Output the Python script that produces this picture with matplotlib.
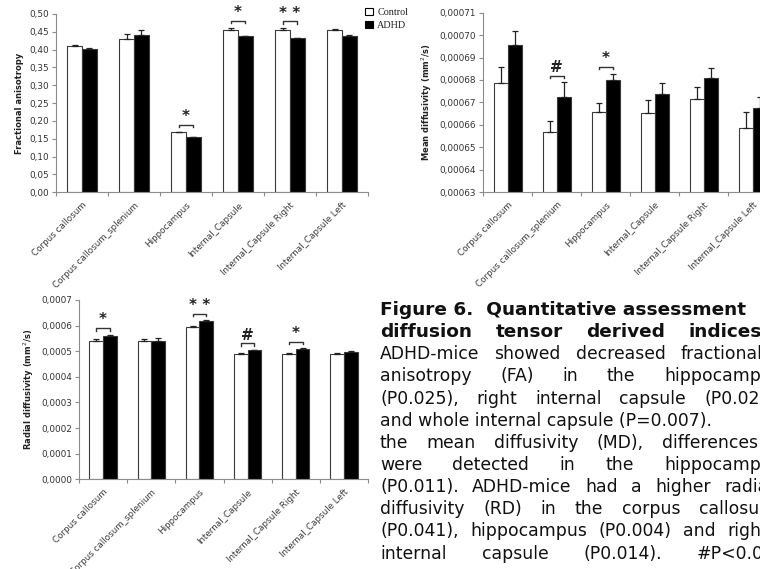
import matplotlib
matplotlib.use("Agg")
import matplotlib.pyplot as plt
from matplotlib.patches import Patch
from matplotlib.ticker import FuncFormatter, MultipleLocator

# Regions measured in each DTI map
regions = ["Corpus callosum", "Corpus callosum_splenium", "Hippocampus",
           "Internal_Capsule", "Internal_Capsule Right", "Internal_Capsule Left"]

# Fractional anisotropy (mean, SEM)
fa_control = [0.410, 0.429, 0.168, 0.455, 0.455, 0.455]
fa_control_err = [0.002, 0.016, 0.002, 0.007, 0.006, 0.004]
fa_adhd = [0.401, 0.442, 0.155, 0.437, 0.433, 0.439]
fa_adhd_err = [0.005, 0.012, 0.001, 0.001, 0.001, 0.003]
fa_marks = {2: "*", 3: "*", 4: "* *"}

# Mean diffusivity, mm^2/s
md_control = [0.0006785, 0.0006568, 0.0006657, 0.0006651, 0.0006715, 0.0006587]
md_control_err = [0.0000071, 0.0000050, 0.0000042, 0.0000059, 0.0000052, 0.0000068]
md_adhd = [0.0006957, 0.0006725, 0.0006800, 0.0006739, 0.0006807, 0.0006673]
md_adhd_err = [0.0000063, 0.0000064, 0.0000028, 0.0000046, 0.0000045, 0.0000050]
md_marks = {1: "#", 2: "*"}

# Radial diffusivity, mm^2/s
rd_control = [0.000540, 0.000540, 0.000596, 0.000488, 0.000490, 0.000488]
rd_control_err = [0.000006, 0.000007, 0.000002, 0.000005, 0.000004, 0.000004]
rd_adhd = [0.000559, 0.000540, 0.000618, 0.000503, 0.000510, 0.000497]
rd_adhd_err = [0.000005, 0.000010, 0.000003, 0.000002, 0.000002, 0.000004]
rd_marks = {0: "*", 2: "* *", 3: "#", 4: "*"}

W, H = 760, 569
TICK_COLOR = "#333333"
AXIS_COLOR = "#8c8c8c"
BAR_W = 0.285

plt.rcParams["font.family"] = ["DejaVu Sans"]
fig = plt.figure(figsize=(W / 100, H / 100), dpi=100)


def px_axes(left, top, right, bottom):
    """Axes from pixel edges (y measured from the top)."""
    return fig.add_axes([left / W, 1 - bottom / H, (right - left) / W, (bottom - top) / H])


def bar_panel(ax, ctrl, ctrl_err, adhd, adhd_err, marks, ylim, step, decimals, ylabel):
    x = list(range(len(regions)))
    xc = [i - BAR_W / 2 for i in x]
    xa = [i + BAR_W / 2 for i in x]
    ekw = dict(ecolor="#222222", elinewidth=0.9, capsize=2.2, capthick=0.9)
    ax.bar(xc, ctrl, BAR_W, color="white", edgecolor="#3a3a3a", linewidth=0.8,
           yerr=[[0] * len(ctrl), ctrl_err], error_kw=ekw, zorder=2)
    ax.bar(xa, adhd, BAR_W, color="black", edgecolor="#3a3a3a", linewidth=0.8,
           yerr=[[0] * len(adhd), adhd_err], error_kw=ekw, zorder=2)

    ax.set_xlim(-0.5, len(regions) - 0.5)
    ax.set_ylim(*ylim)
    span = ylim[1] - ylim[0]

    # significance brackets between the two bars of a region
    for i, label in marks.items():
        top = max(ctrl[i] + ctrl_err[i], adhd[i] + adhd_err[i])
        yb = top + 0.036 * span
        tick = 0.012 * span
        ax.plot([xc[i], xc[i], xa[i], xa[i]], [yb - tick, yb, yb, yb - tick],
                color="#333333", lw=1.0, clip_on=False, zorder=3)
        ax.text(i, yb + 0.005 * span, label, ha="center", va="bottom",
                fontsize=11, fontweight="bold", color="#222222", clip_on=False)

    for side in ("top", "right"):
        ax.spines[side].set_visible(False)
    for side in ("left", "bottom"):
        ax.spines[side].set_color(AXIS_COLOR)
        ax.spines[side].set_linewidth(0.8)

    ax.yaxis.set_major_locator(MultipleLocator(step))
    ax.yaxis.set_major_formatter(FuncFormatter(
        lambda v, _: f"{v:.{decimals}f}".replace(".", ",")))
    ax.tick_params(axis="y", length=3, width=0.8, color=AXIS_COLOR,
                   labelsize=6.4, labelcolor=TICK_COLOR, pad=2)

    ax.set_xticks(x)
    ax.set_xticklabels(regions, rotation=45, ha="right", va="top",
                       rotation_mode="anchor", fontsize=6.3, color="#3a3a3a")
    ax.set_xticks([i - 0.5 for i in range(len(regions) + 1)], minor=True)
    ax.tick_params(axis="x", which="major", length=0, pad=6)
    ax.tick_params(axis="x", which="minor", length=3, width=0.8, color=AXIS_COLOR)

    ax.set_ylabel(ylabel, fontsize=6, fontweight="bold", color="#222222", labelpad=4)


ax_fa = px_axes(56, 14, 368, 192.3)
bar_panel(ax_fa, fa_control, fa_control_err, fa_adhd, fa_adhd_err, fa_marks,
          (0, 0.5), 0.05, 2, "Fractional anisotropy")

ax_md = px_axes(483.3, 12.7, 483.3 + 6 * 49, 192)
bar_panel(ax_md, md_control, md_control_err, md_adhd, md_adhd_err, md_marks,
          (0.00063, 0.00071), 0.00001, 5, "Mean diffusivity (mm$^2$/s)")

ax_rd = px_axes(79, 300, 368, 479.3)
bar_panel(ax_rd, rd_control, rd_control_err, rd_adhd, rd_adhd_err, rd_marks,
          (0, 0.0007), 0.0001, 4, "Radial diffusivity (mm$^2$/s)")

handles = [Patch(facecolor="white", edgecolor="black", linewidth=0.8),
           Patch(facecolor="black", edgecolor="black", linewidth=0.8)]
fig.legend(handles, ["Control", "ADHD"], loc="upper left",
           bbox_to_anchor=(365 / W, 1 - 8 / H), frameon=False,
           prop=dict(family="Liberation Serif", size=7.3), labelcolor="#222222",
           handlelength=0.75, handleheight=0.75, handletextpad=0.45,
           labelspacing=0.35, borderaxespad=0, borderpad=0)

# Figure caption. A line is either one string, or a list of words spread
# between the left margin and the x where its last word starts.
CAP_X = 380
caption = [
    (True, "Figure 6.  Quantitative assessment", None),
    (True, ["diffusion", "tensor", "derived", "indices."], 689),
    (False, ["ADHD-mice", "showed", "decreased", "fractional"], 681),
    (False, ["anisotropy", "(FA)", "in", "the", "hippocampus"], 664),
    (False, ["(P0.025),", "right", "internal", "capsule", "(P0.028)"], 704),
    (False, "and whole internal capsule (P=0.007).", None),
    (False, ["the", "mean", "diffusivity", "(MD),", "differences"], 662),
    (False, ["were", "detected", "in", "the", "hippocampus"], 664),
    (False, ["(P0.011).", "ADHD-mice", "had", "a", "higher", "radial"], 724),
    (False, ["diffusivity", "(RD)", "in", "the", "corpus", "callosum"], 699),
    (False, ["(P0.041),", "hippocampus", "(P0.004)", "and", "right"], 727),
    (False, ["internal", "capsule", "(P0.014).", "#P<0.05"], 697),
    (False, "Control vs. ADHD-mice; *P<0.05 and", None),
]
renderer = fig.canvas.get_renderer()
for k, (bold, words, last_x) in enumerate(caption):
    base = 315 + 22.15 * k + (3 if k == len(caption) - 1 else 0)
    yf = 1 - base / H
    style = dict(ha="left", va="baseline", fontsize=13.3 if bold else 12.4,
                 fontweight="bold" if bold else "normal", color="#111111")
    if last_x is None:
        fig.text(CAP_X / W, yf, words, **style)
        continue
    items = [fig.text(0, yf, w, **style) for w in words]
    widths = [t.get_window_extent(renderer).width for t in items]
    gap = (last_x - CAP_X - sum(widths[:-1])) / (len(words) - 1)
    xpos = CAP_X
    for t, wd in zip(items, widths):
        t.set_x(xpos / W)
        xpos += wd + gap

fig.savefig("out.png", dpi=100)
